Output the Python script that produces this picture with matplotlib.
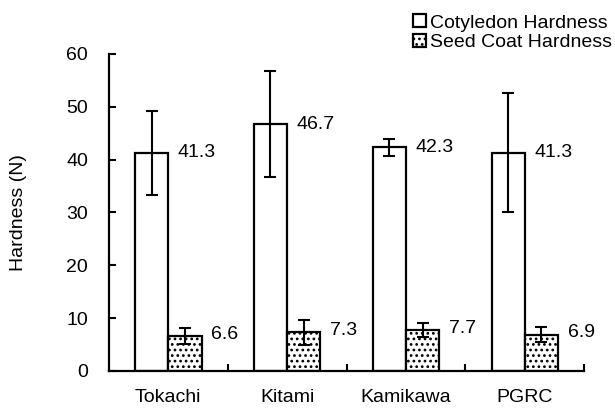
import numpy as np
import matplotlib
matplotlib.use("Agg")
import matplotlib.pyplot as plt

plt.rcParams['font.family'] = ['Liberation Sans', 'DejaVu Sans']
plt.rcParams['hatch.linewidth'] = 1.2

# data
places = ['Tokachi', 'Kitami', 'Kamikawa', 'PGRC']
cotyledon = [41.3, 46.7, 42.3, 41.3]
cotyledon_err = [8.0, 10.0, 1.6, 11.3]
seed_coat = [6.6, 7.3, 7.7, 6.9]
seed_coat_err = [1.5, 2.3, 1.3, 1.4]

fig = plt.figure(figsize=(6.15, 4.09), dpi=100)
ax = fig.add_axes([0.177, 0.093, 0.773, 0.775])

x = np.arange(len(places))
w = 0.28

ax.bar(x - 0.14, cotyledon, w, color='white', edgecolor='black', linewidth=1.6,
       label='Cotyledon Hardness', zorder=2)
ax.bar(x + 0.14, seed_coat, w, color='white', edgecolor='black', linewidth=1.6,
       hatch='...', label='Seed Coat Hardness', zorder=2)
ax.errorbar(x - 0.14, cotyledon, yerr=cotyledon_err, fmt='none', ecolor='black',
            elinewidth=1.5, capsize=4.5, capthick=1.5, zorder=3)
ax.errorbar(x + 0.14, seed_coat, yerr=seed_coat_err, fmt='none', ecolor='black',
            elinewidth=1.5, capsize=4.5, capthick=1.5, zorder=3)

# value labels beside the bars
for i in range(len(places)):
    ax.text(x[i] + 0.08, cotyledon[i], f'{cotyledon[i]:.1f}', fontsize=14,
            va='center', ha='left')
    ax.text(x[i] + 0.36, seed_coat[i] + 0.3, f'{seed_coat[i]:.1f}', fontsize=14,
            va='center', ha='left')

ax.set_xlim(-0.5, 3.5)
ax.set_ylim(0, 60)
ax.set_yticks(np.arange(0, 61, 10))
ax.set_xticks(x)
ax.set_xticklabels(places, fontsize=14)
ax.set_xticks(np.arange(0.5, 4, 1), minor=True)
ax.tick_params(axis='x', which='major', length=0, pad=13)
ax.tick_params(axis='x', which='minor', direction='in', length=5, width=1.5)
ax.tick_params(axis='y', direction='in', length=5, width=1.5, labelsize=14, pad=15)
ax.set_ylabel('Hardness (N)', fontsize=14, labelpad=28)

for s in ['top', 'right']:
    ax.spines[s].set_visible(False)
for s in ['left', 'bottom']:
    ax.spines[s].set_linewidth(1.6)

fig.legend(loc='upper left', bbox_to_anchor=(0.6715, 0.965), frameon=False,
           fontsize=14, handlelength=0.65, handleheight=0.65, handletextpad=0.25,
           labelspacing=0.1, borderpad=0, borderaxespad=0)

fig.savefig('out.png', dpi=100)
